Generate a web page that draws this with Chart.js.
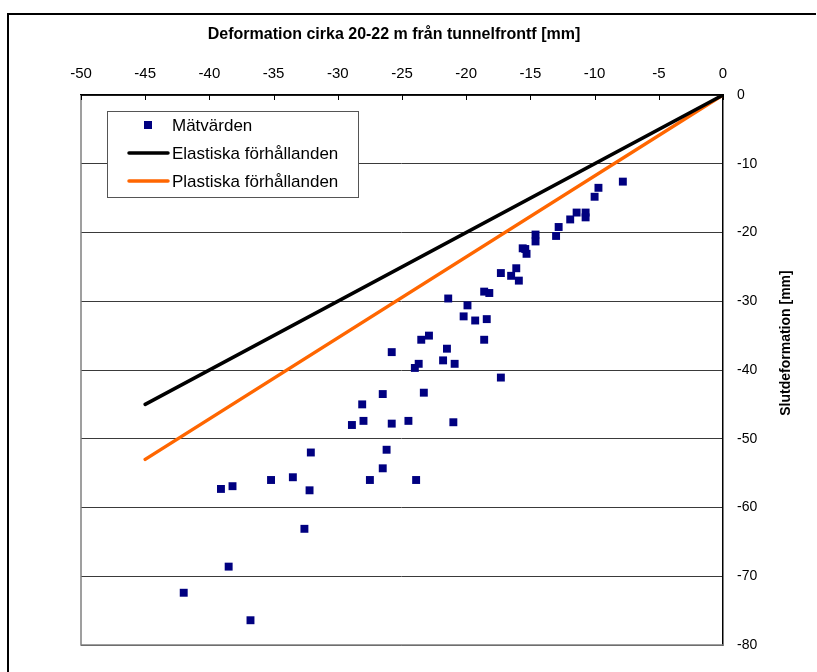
<!DOCTYPE html>
<html>
<head>
<meta charset="utf-8">
<script src="https://cdn.jsdelivr.net/npm/chart.js@4"></script>
<style>
  html, body { margin: 0; padding: 0; background: #fff; }
  #wrap { position: relative; width: 817px; height: 672px; }
  #frame { position: absolute; left: 7px; top: 13px; width: 809px; height: 670px;
           border-left: 2px solid #000; border-top: 2px solid #000; box-sizing: border-box; }
  canvas { position: absolute; left: 0; top: 0; }
</style>
</head>
<body>
<div id="wrap">
  <div id="frame"></div>
  <canvas id="chart" width="817" height="672"></canvas>
</div>
<script>
// Mätvärden (x = deformation 20-22 m från tunnelfront, y = slutdeformation)
var matX = [-7.8, -9.7, -10.0, -10.7, -10.7, -11.4, -11.9, -12.8, -13.0, -14.6,
            -14.6, -15.6, -15.4, -15.3, -16.1, -16.5, -15.9, -17.3, -18.6, -18.2,
            -21.4, -19.9, -20.2, -19.3, -18.4, -23.5, -22.9, -21.5, -18.6, -23.7,
            -24.0, -21.8, -20.9, -17.3, -23.3, -24.5, -21.0, -23.9, -25.8, -26.5,
            -28.1, -28.0, -28.9, -25.8, -32.1, -26.2, -26.5, -35.2, -33.5, -27.5,
            -39.1, -38.2, -32.2, -32.6, -38.5, -42.0, -36.8];
var matY = [-12.6, -13.5, -14.8, -17.1, -17.8, -17.1, -18.1, -19.2, -20.5, -20.3,
            -21.3, -22.3, -22.4, -23.1, -25.2, -26.3, -27.0, -25.9, -28.6, -28.8,
            -29.6, -30.6, -32.2, -32.8, -32.6, -35.6, -35.0, -36.9, -35.6, -39.1,
            -39.7, -38.6, -39.1, -41.1, -43.3, -47.4, -47.6, -56.0, -37.4, -43.5,
            -45.0, -47.4, -48.0, -47.8, -52.0, -51.6, -54.3, -56.0, -55.6, -56.0,
            -57.3, -56.9, -57.5, -63.1, -68.6, -72.4, -76.4];

var lineX = [0, -45];
var elastiskY = [0, -45];
var plastiskY = [0, -53];

var xTicks = [-50, -45, -40, -35, -30, -25, -20, -15, -10, -5, 0];
var yTicks = [0, -10, -20, -30, -40, -50, -60, -70, -80];

var FONT = '"Liberation Sans", Arial, sans-serif';

function pairs(xs, ys) {
  return xs.map(function (x, i) { return { x: x, y: ys[i] }; });
}

var extras = {
  id: 'extras',
  beforeDatasetsDraw: function (chart) {
    var ctx = chart.ctx, a = chart.chartArea;
    var xs = chart.scales.x;
    ctx.save();
    // plot frame: left & bottom grey
    ctx.strokeStyle = '#808080';
    ctx.lineWidth = 1.5;
    ctx.beginPath();
    ctx.moveTo(a.left, a.top);
    ctx.lineTo(a.left, a.bottom);
    ctx.lineTo(a.right, a.bottom);
    ctx.stroke();
    // x ticks pointing into the plot
    ctx.strokeStyle = '#000';
    ctx.lineWidth = 1;
    xTicks.forEach(function (v) {
      var px = Math.round(xs.getPixelForValue(v)) + 0.5;
      ctx.beginPath();
      ctx.moveTo(px, a.top);
      ctx.lineTo(px, a.top + 5);
      ctx.stroke();
    });
    ctx.restore();
  },
  afterDraw: function (chart) {
    var ctx = chart.ctx;
    ctx.save();
    // axis titles
    ctx.fillStyle = '#000';
    ctx.textAlign = 'center';
    ctx.textBaseline = 'middle';
    ctx.font = 'bold 16px ' + FONT;
    ctx.fillText('Deformation cirka 20-22 m från tunnelfrontf [mm]', 394, 35);
    ctx.font = 'bold 14px ' + FONT;
    ctx.translate(786, 343);
    ctx.rotate(-Math.PI / 2);
    ctx.fillText('Slutdeformation [mm]', 0, 0);
    ctx.restore();

    // legend
    ctx.save();
    ctx.fillStyle = '#fff';
    ctx.fillRect(107, 111, 252, 87);
    ctx.strokeStyle = '#555';
    ctx.lineWidth = 1;
    ctx.strokeRect(107.5, 111.5, 251, 86);
    var ds = chart.data.datasets;
    var rows = [125, 153, 181];
    ctx.font = '17px ' + FONT;
    ctx.textAlign = 'left';
    ctx.textBaseline = 'middle';
    ds.forEach(function (d, i) {
      var y = rows[i];
      if (d.showLine) {
        ctx.strokeStyle = d.borderColor;
        ctx.lineWidth = 3.5;
        ctx.lineCap = 'round';
        ctx.beginPath();
        ctx.moveTo(129, y);
        ctx.lineTo(168, y);
        ctx.stroke();
      } else {
        ctx.fillStyle = d.backgroundColor;
        ctx.fillRect(144, y - 4, 8, 8);
      }
      ctx.fillStyle = '#000';
      ctx.fillText(d.label, 172, y + 1);
    });
    ctx.restore();
  }
};

new Chart(document.getElementById('chart'), {
  type: 'scatter',
  data: {
    datasets: [
      {
        label: 'Mätvärden',
        data: pairs(matX, matY),
        pointStyle: 'rect',
        pointRadius: 5.6,
        backgroundColor: '#000080',
        borderColor: '#000080',
        borderWidth: 0
      },
      {
        label: 'Elastiska förhållanden',
        data: pairs(lineX, elastiskY),
        showLine: true,
        pointRadius: 0,
        borderColor: '#000000',
        borderWidth: 3.5,
        borderCapStyle: 'round'
      },
      {
        label: 'Plastiska förhållanden',
        data: pairs(lineX, plastiskY),
        showLine: true,
        pointRadius: 0,
        borderColor: '#FF6600',
        borderWidth: 3.5,
        borderCapStyle: 'round'
      }
    ]
  },
  options: {
    responsive: false,
    animation: false,
    layout: { padding: { left: 81, right: 0, top: 0, bottom: 27 } },
    plugins: {
      legend: { display: false },
      tooltip: { enabled: false }
    },
    scales: {
      x: {
        type: 'linear',
        position: 'top',
        min: -50,
        max: 0,
        afterBuildTicks: function (s) { s.ticks = xTicks.map(function (v) { return { value: v }; }); },
        afterFit: function (s) { s.height = 95; },
        grid: { drawOnChartArea: false, drawTicks: false },
        border: { color: '#000', width: 1.5 },
        ticks: { color: '#000', font: { family: FONT, size: 15 }, padding: 12 }
      },
      y: {
        type: 'linear',
        position: 'right',
        min: -80,
        max: 0,
        afterBuildTicks: function (s) { s.ticks = yTicks.map(function (v) { return { value: v }; }); },
        afterFit: function (s) { s.width = 94; },
        grid: { color: '#3a3a3a', lineWidth: 1, drawTicks: false },
        border: { color: '#000', width: 1.5 },
        ticks: { color: '#000', font: { family: FONT, size: 14 }, padding: 14 }
      }
    }
  },
  plugins: [extras]
});
</script>
</body>
</html>
